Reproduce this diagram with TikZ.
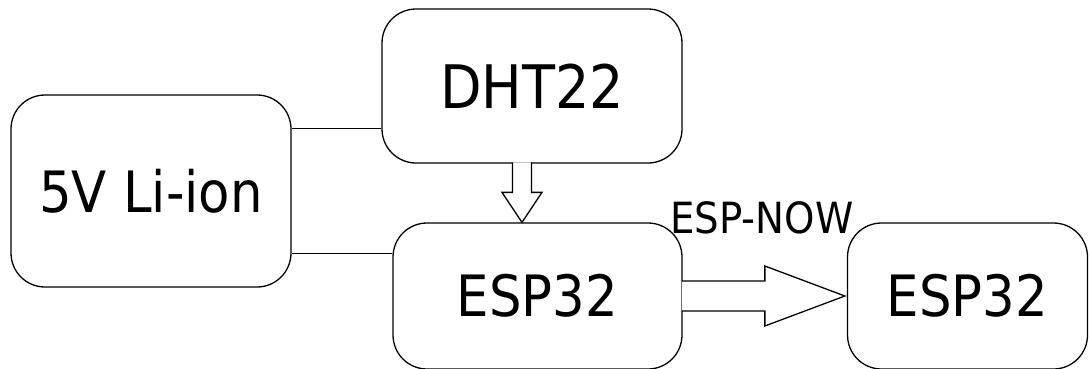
\documentclass[tikz,border=0pt]{standalone}
\usepackage{fontspec}
\setmainfont{DejaVu Sans Condensed}
\begin{document}
\begin{tikzpicture}[x=1pt,y=-1pt,
  every path/.style={line width=1.3pt},
  block/.style={draw, rounded corners=34pt, inner sep=0pt,
    font=\fontsize{57}{64}\selectfont},
  flow/.style={draw, line join=miter, fill=white}]
\useasboundingbox (0,0) rectangle (1089,368);

% blocks
\node[block, minimum width=280pt, minimum height=192pt] (bat) at (151,191) {5V Li-ion};
\node[block, minimum width=300pt, minimum height=154pt,
      font=\fontsize{60}{68}\selectfont] (dht) at (532,86) {DHT22};
\node[block, minimum width=289pt, minimum height=146pt] (esp1) at (537.5,296) {ESP32};
\node[block, minimum width=240pt, minimum height=146pt] (esp2) at (967.5,296) {ESP32};

% power wiring from the battery
\draw ([yshift=-34pt]bat.north east) coordinate (p1) -- (p1 -| dht.west);
\draw ([yshift=34pt]bat.south east) coordinate (p2) -- (p2 -| esp1.west);

% sensor data into the ESP32
\coordinate (t1) at (esp1.north -| 522,0);
\draw[flow, shift={(t1)}]
  (-9.5,-60) -- (-9.5,-30) -- (-20,-30) -- (0,0) -- (20,-30) -- (9.5,-30) -- (9.5,-60);

% ESP-NOW link between the two boards
\coordinate (t2) at ([xshift=-2pt]esp2.west);
\draw[flow, shift={(t2)}]
  (-163,-15) -- (-80,-15) -- (-80,-30) -- (0,0) -- (-80,30) -- (-80,15) -- (-163,15);
\node[anchor=base, inner sep=0pt, font=\fontsize{43}{48}\selectfont] (lnk) at (762,233) {ESP-NOW};
\end{tikzpicture}
\end{document}
